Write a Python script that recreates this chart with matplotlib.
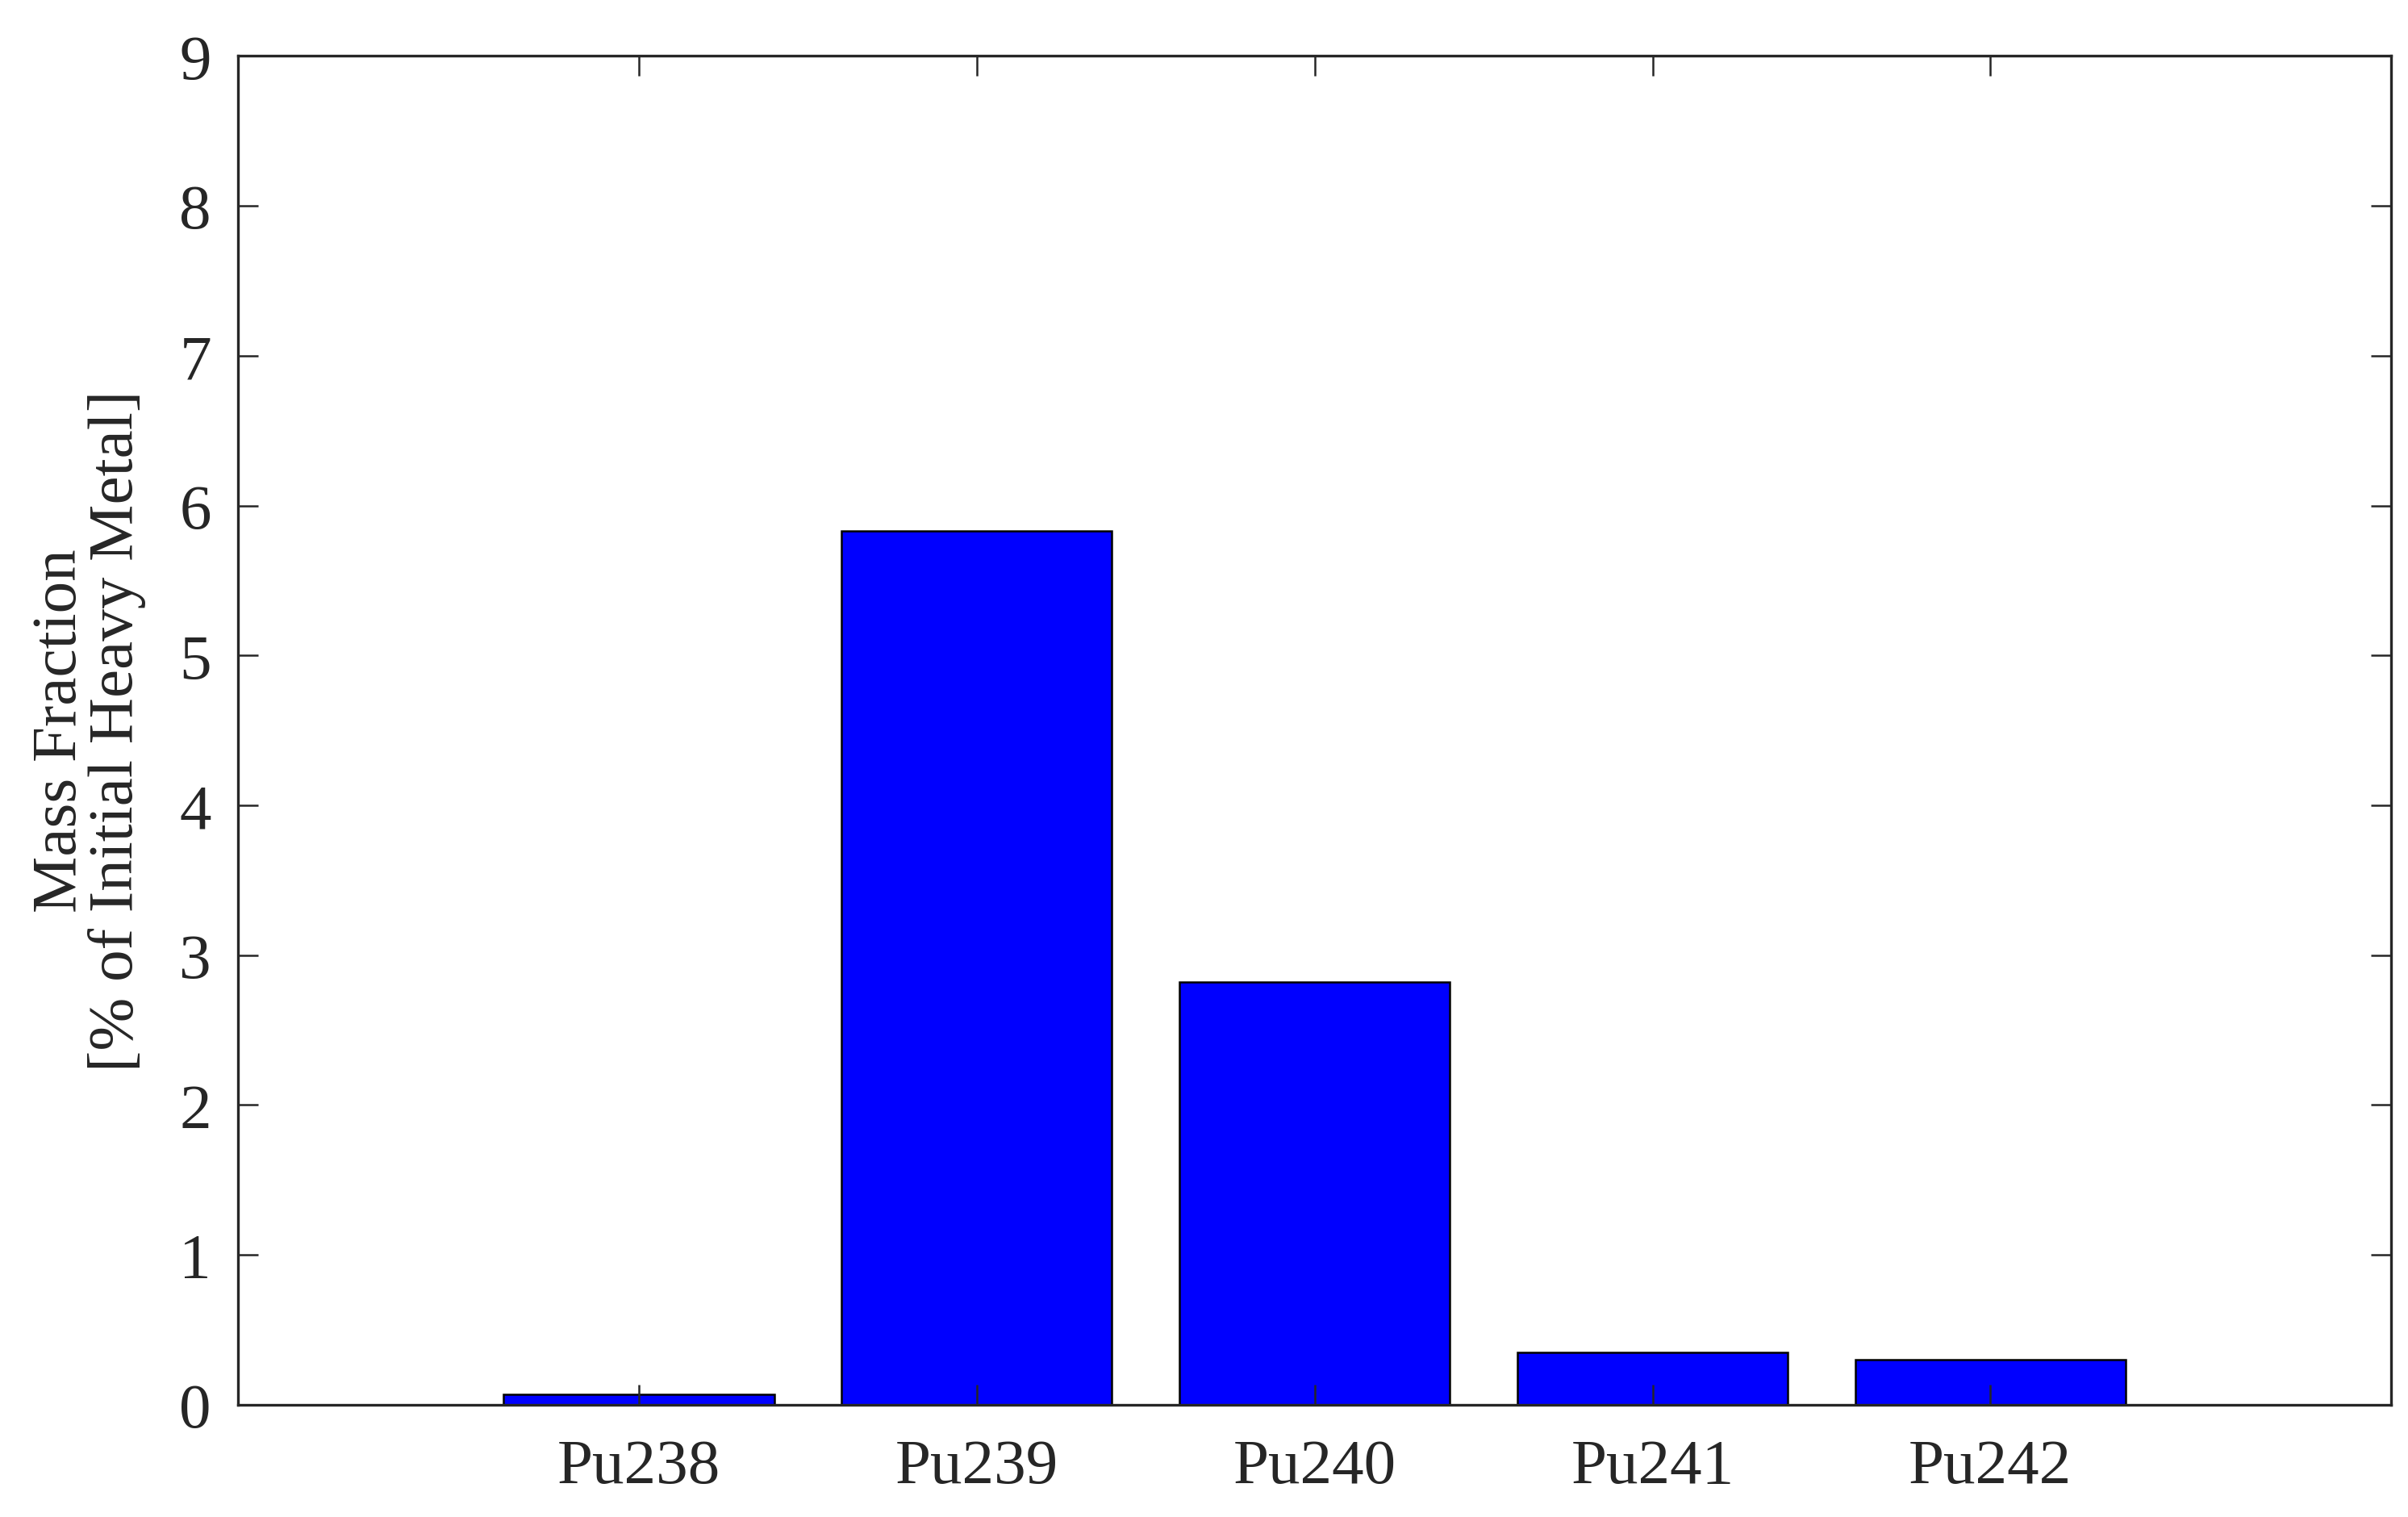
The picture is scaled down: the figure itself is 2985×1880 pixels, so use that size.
#!/usr/bin/env python
# Plutonium isotope mass fractions, bar chart

import numpy as np
import matplotlib.pyplot as plt
import matplotlib.ticker as ticker

# Data
isotopes = ['Pu238', 'Pu239', 'Pu240', 'Pu241', 'Pu242']
mass_fraction = [0.07, 5.83, 2.82, 0.35, 0.30]
y_ticks = [0, 1, 2, 3, 4, 5, 6, 7, 8, 9]

dark = '#262626'
plt.rcParams['font.family'] = ['Liberation Serif', 'DejaVu Serif']
plt.rcParams['axes.edgecolor'] = dark
plt.rcParams['xtick.color'] = dark
plt.rcParams['ytick.color'] = dark
plt.rcParams['text.color'] = dark
plt.rcParams['axes.labelcolor'] = dark

fig = plt.figure(figsize=(9.95, 6.27), dpi=300)
ax = fig.add_axes([0.0989, 0.074, 0.8941, 0.8886])

x = np.arange(1, len(isotopes) + 1)
ax.bar(x, mass_fraction, width=0.8, color='#0000ff', edgecolor='black',
       linewidth=0.6, zorder=1)

ax.set_xlim(-0.186, 6.186)
ax.set_ylim(0, 9)
ax.set_xticks(x)
ax.set_xticklabels(isotopes)
ax.yaxis.set_major_locator(ticker.FixedLocator(y_ticks))
ax.tick_params(axis='both', direction='in', length=6, width=0.6,
               top=True, right=True, labelsize=19)
ax.tick_params(axis='x', pad=10)
ax.tick_params(axis='y', pad=8)
for s in ax.spines.values():
    s.set_linewidth(0.8)
    s.set_zorder(3)

ax.set_ylabel('Mass Fraction\n[% of Initial Heavy Metal]', fontsize=19,
              linespacing=0.95, labelpad=10)

plt.savefig('out.png', dpi=300, facecolor='white')
